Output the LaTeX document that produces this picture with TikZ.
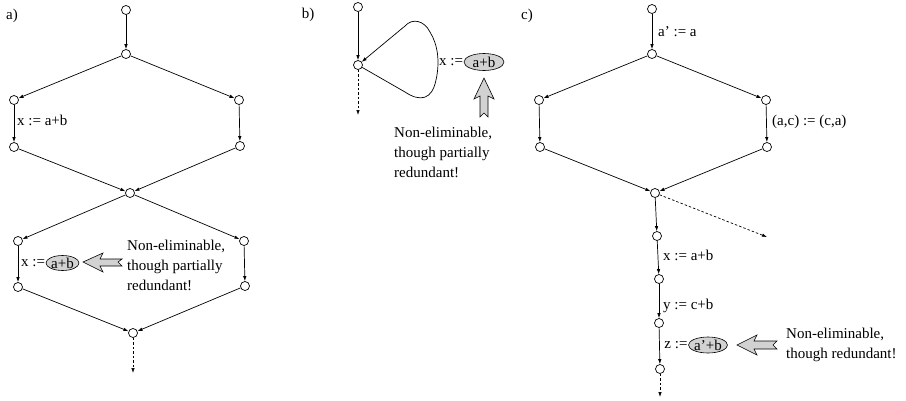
\documentclass[tikz,border=0pt]{standalone}
\usepackage{fontspec}
\setmainfont{Liberation Serif}
\usetikzlibrary{arrows.meta,shapes.geometric}
\begin{document}
\begin{tikzpicture}[x=1pt,y=-1pt,
  every node/.style={font=\fontsize{15}{20}\selectfont},
  vtx/.style={circle,draw,fill=white,minimum size=9pt,inner sep=0pt,line width=0.7pt},
  edge/.style={line width=0.7pt,-{Latex[length=5pt,width=3.5pt]}},
  dedge/.style={edge,dash pattern=on 2.5pt off 2pt},
  lbl/.style={anchor=west,inner sep=1pt},
  expr/.style={ellipse,draw,fill=gray!35,minimum width=36pt,minimum height=16pt,inner sep=0pt,line width=0.6pt},
  note/.style={anchor=west,align=left,inner sep=0pt},
  harrow/.style={draw,fill=gray!35,line width=0.6pt}]
\useasboundingbox (0,0) rectangle (906,400);
% ---------- panel a ----------
\node (la) at (12,16) {a)};
\node[vtx] (a1) at (126,10) {};
\node[vtx] (a2) at (126,54) {};
\node[vtx] (a3) at (14,100) {};
\node[vtx] (a4) at (239,100) {};
\node[vtx] (a5) at (14,147) {};
\node[vtx] (a6) at (240,146) {};
\node[vtx] (a7) at (130,193) {};
\node[vtx] (a8) at (18,241) {};
\node[vtx] (a9) at (244,241) {};
\node[vtx] (a10) at (18,287) {};
\node[vtx] (a11) at (245,286) {};
\node[vtx] (a12) at (133,333) {};
\coordinate (aend) at (133,373);
\draw[edge] (a1) -- (a2);
\draw[edge] (a2) -- (a3);
\draw[edge] (a2) -- (a4);
\draw[edge] (a3) -- (a5);
\draw[edge] (a4) -- (a6);
\draw[edge] (a5) -- (a7);
\draw[edge] (a6) -- (a7);
\draw[edge] (a7) -- (a8);
\draw[edge] (a7) -- (a9);
\draw[edge] (a8) -- (a10);
\draw[edge] (a9) -- (a11);
\draw[edge] (a10) -- (a12);
\draw[edge] (a11) -- (a12);
\draw[dedge] (a12) -- (aend);
\node[lbl] (ta1) at (16,120) {x := a+b};
\node[expr,minimum width=33pt,minimum height=15pt] (ea) at (62.5,263) {a+b};
\node[anchor=east,inner sep=0.5pt] (tea) at (ea.west) {x :=};
\draw[harrow] (83,262) -- (103,253) -- (100,259) -- (122,259) -- (118,262) -- (122,266) -- (100,266) -- (103,272) -- cycle;
\node[note] (na) at (127,265.5) {Non-eliminable,\\though partially\\redundant!};
% ---------- panel b ----------
\node (lb) at (308,15) {b)};
\node[vtx] (b1) at (358,7) {};
\node[vtx] (b2) at (358,65) {};
\coordinate (bend) at (358,115);
\draw[edge] (b1) -- (b2);
\draw[dedge] (b2) -- (bend);
\draw[edge] (b2) -- (405,92) .. controls (420,102) and (432,100) .. (436,80) .. controls (440,62) and (438,45) .. (430,32) .. controls (424,20) and (412,18) .. (405,26) -- (b2);
\node[expr,minimum width=40pt,minimum height=17pt] (eb) at (484,62) {a+b};
\node[anchor=east,inner sep=0.5pt] (teb) at (eb.west) {x :=};
\draw[harrow] (484,78) -- (474,99) -- (480,96) -- (480,117) -- (484,113) -- (488,117) -- (488,96) -- (494,99) -- cycle;
\node[note] (nb) at (394,152) {Non-eliminable,\\though partially\\redundant!};
% ---------- panel c ----------
\node (lc) at (527,16) {c)};
\node[vtx] (c1) at (652,9) {};
\node[vtx] (c2) at (652,54) {};
\node[vtx] (c3) at (539,100) {};
\node[vtx] (c4) at (766,100) {};
\node[vtx] (c5) at (540,147) {};
\node[vtx] (c6) at (767,147) {};
\node[vtx] (c7) at (655,193) {};
\node[vtx] (c8) at (657,236) {};
\node[vtx] (c9) at (659,279) {};
\node[vtx] (c10) at (659,323) {};
\node[vtx] (c11) at (660,369) {};
\coordinate (cdash) at (767,237);
\coordinate (cend) at (660,397);
\draw[edge] (c1) -- (c2);
\draw[edge] (c2) -- (c3);
\draw[edge] (c2) -- (c4);
\draw[edge] (c3) -- (c5);
\draw[edge] (c4) -- (c6);
\draw[edge] (c5) -- (c7);
\draw[edge] (c6) -- (c7);
\draw[edge] (c7) -- (c8);
\draw[dedge] (c7) -- (cdash);
\draw[edge] (c8) -- (c9);
\draw[edge] (c9) -- (c10);
\draw[edge] (c10) -- (c11);
\draw[dedge] (c11) -- (cend);
\node[lbl] (tc1) at (657,32) {a' := a};
\node[lbl] (tc2) at (771,122) {(a,c) := (c,a)};
\node[lbl] (tc3) at (662,255) {x := a+b};
\node[lbl] (tc4) at (662,306) {y := c+b};
\node[expr,minimum width=39pt,minimum height=16pt] (ec) at (708,345) {a'+b};
\node[anchor=east,inner sep=0.5pt] (tec) at (ec.west) {z :=};
\draw[harrow] (737,345) -- (757,335) -- (754,341) -- (777,341) -- (773,345) -- (777,349) -- (754,349) -- (757,355) -- cycle;
\node[note] (nc) at (786,344.5) {Non-eliminable,\\though redundant!};
\end{tikzpicture}
\end{document}
